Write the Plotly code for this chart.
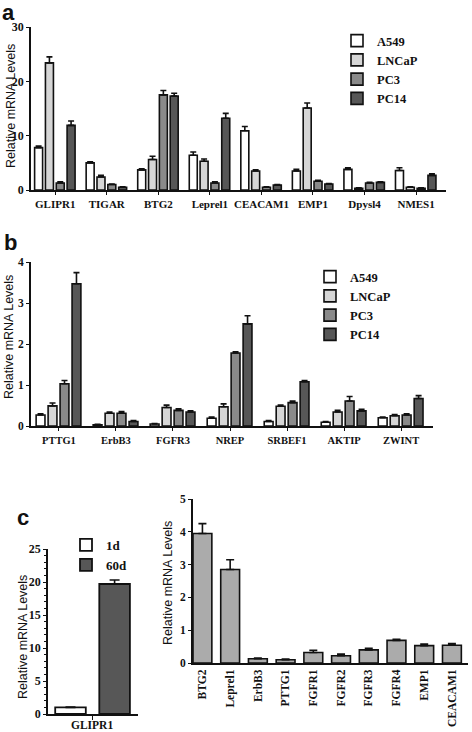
import plotly.graph_objects as go

W, H = 472, 732

# ---------------- data ----------------
genes_a = ["GLIPR1", "TIGAR", "BTG2", "Leprel1", "CEACAM1", "EMP1", "Dpysl4", "NMES1"]
a549_a = [7.8, 5.0, 3.7, 6.4, 10.9, 3.5, 3.8, 3.6]
a549_a_err = [0.3, 0.2, 0.2, 0.6, 0.8, 0.3, 0.3, 0.5]
lncap_a = [23.4, 2.4, 5.6, 5.3, 3.5, 15.1, 0.3, 0.5]
lncap_a_err = [1.1, 0.3, 0.6, 0.4, 0.2, 0.9, 0.1, 0.1]
pc3_a = [1.3, 1.0, 17.5, 1.3, 0.5, 1.6, 1.3, 0.3]
pc3_a_err = [0.2, 0.1, 0.8, 0.2, 0.1, 0.2, 0.1, 0.1]
pc14_a = [11.9, 0.5, 17.3, 13.2, 0.9, 1.1, 1.4, 2.7]
pc14_a_err = [0.8, 0.1, 0.5, 0.9, 0.1, 0.1, 0.1, 0.3]

genes_b = ["PTTG1", "ErbB3", "FGFR3", "NREP", "SRBEF1", "AKTIP", "ZWINT"]
a549_b = [0.27, 0.03, 0.05, 0.19, 0.11, 0.09, 0.20]
a549_b_err = [0.03, 0.01, 0.01, 0.03, 0.02, 0.02, 0.02]
lncap_b = [0.49, 0.31, 0.45, 0.47, 0.48, 0.34, 0.25]
lncap_b_err = [0.07, 0.03, 0.06, 0.07, 0.03, 0.04, 0.03]
pc3_b = [1.03, 0.31, 0.38, 1.78, 0.57, 0.61, 0.27]
pc3_b_err = [0.08, 0.04, 0.04, 0.03, 0.04, 0.11, 0.03]
pc14_b = [3.47, 0.11, 0.34, 2.49, 1.08, 0.37, 0.67]
pc14_b_err = [0.27, 0.02, 0.03, 0.20, 0.03, 0.04, 0.07]

genes_c1 = ["GLIPR1"]
d1_c = [1.0]
d1_c_err = [0.05]
d60_c = [19.7]
d60_c_err = [0.6]

genes_c2 = ["BTG2", "Leprel1", "ErbB3", "PTTG1", "FGFR1", "FGFR2", "FGFR3", "FGFR4", "EMP1", "CEACAM1"]
vals_c2 = [3.95, 2.85, 0.13, 0.10, 0.32, 0.22, 0.40, 0.69, 0.53, 0.54]
vals_c2_err = [0.30, 0.30, 0.02, 0.02, 0.07, 0.05, 0.05, 0.03, 0.05, 0.05]

series_names = ["A549", "LNCaP", "PC3", "PC14"]
colors = ["#ffffff", "#d6d6d6", "#8a8a8a", "#575757"]
y_title = "Relative mRNA Levels"

# ---------------- helpers ----------------
def px_x(a, b):
    return [a / W, b / W]

def px_y(top, bottom):
    return [1 - bottom / H, 1 - top / H]

SERIF = "Liberation Serif"
SANS = "Liberation Sans"
INK = "#111111"

fig = go.Figure()

offsets4 = [-0.40, -0.19, 0.02, 0.23]
width4 = 0.155

def add_group(genes, data, xa, ya, legend):
    for i, (name, (vals, errs)) in enumerate(zip(series_names, data)):
        fig.add_trace(go.Bar(
            x=genes, y=vals, name=name, xaxis=xa, yaxis=ya,
            offset=offsets4[i], width=width4,
            marker=dict(color=colors[i], line=dict(color=INK, width=1.6)),
            error_y=dict(type="data", array=errs, arrayminus=[0] * len(errs),
                         symmetric=False, color=INK, thickness=1.6, width=3),
            legend=legend, showlegend=True,
        ))

add_group(genes_a, [(a549_a, a549_a_err), (lncap_a, lncap_a_err),
                    (pc3_a, pc3_a_err), (pc14_a, pc14_a_err)], "x", "y", "legend")
add_group(genes_b, [(a549_b, a549_b_err), (lncap_b, lncap_b_err),
                    (pc3_b, pc3_b_err), (pc14_b, pc14_b_err)], "x2", "y2", "legend2")

fig.add_trace(go.Bar(
    x=genes_c1, y=d1_c, name="1d", xaxis="x3", yaxis="y3",
    offset=-0.41, width=0.34,
    marker=dict(color="#ffffff", line=dict(color=INK, width=1.8)),
    error_y=dict(type="data", array=d1_c_err, arrayminus=[0], symmetric=False,
                 color=INK, thickness=1.6, width=5),
    legend="legend3",
))
fig.add_trace(go.Bar(
    x=genes_c1, y=d60_c, name="60d", xaxis="x3", yaxis="y3",
    offset=0.08, width=0.34,
    marker=dict(color="#575757", line=dict(color=INK, width=1.8)),
    error_y=dict(type="data", array=d60_c_err, arrayminus=[0], symmetric=False,
                 color=INK, thickness=1.6, width=5),
    legend="legend3",
))

fig.add_trace(go.Bar(
    x=genes_c2, y=vals_c2, name="c2", xaxis="x4", yaxis="y4",
    offset=-0.34, width=0.68, showlegend=False,
    marker=dict(color="#ababab", line=dict(color=INK, width=1.6)),
    error_y=dict(type="data", array=vals_c2_err, arrayminus=[0] * len(vals_c2_err),
                 symmetric=False, color=INK, thickness=1.6, width=4),
))

axis_common = dict(showline=True, linecolor=INK, linewidth=1.8,
                   showgrid=False, zeroline=False, ticks="outside", automargin=False,
                   tickcolor=INK, tickwidth=1.4, ticklen=4, fixedrange=True)

tick_font = dict(family=SERIF, size=12, color=INK, weight="bold")
legend_common = dict(xanchor="left", yanchor="top", bgcolor="rgba(0,0,0,0)",
                     tracegroupgap=0, borderwidth=0)

def ytitle(xc, yc):
    return dict(text=y_title, x=xc / W, y=1 - yc / H, xref="paper", yref="paper",
                xanchor="center", yanchor="middle", textangle=-90, showarrow=False,
                font=dict(family=SANS, size=12.5, color=INK))

def panel_label(t, x, y_top):
    return dict(text="<b>%s</b>" % t, x=x / W, y=1 - y_top / H, xref="paper", yref="paper",
                xanchor="left", yanchor="top", showarrow=False,
                font=dict(family=SANS, size=22, color=INK))

# category label of panel c (left), placed on its category through the x3 axis
c1_label = dict(text=genes_c1[0], x=genes_c1[0], xref="x3", y=1 - 717 / H, yref="paper",
                xanchor="center", yanchor="top", showarrow=False,
                font=dict(family=SERIF, size=11.5, color=INK, weight="bold"))

layout = dict(
    width=W, height=H,
    margin=dict(l=0, r=0, t=0, b=0, autoexpand=False),
    paper_bgcolor="white", plot_bgcolor="white",
    barmode="overlay",
    showlegend=True,
    # panel a
    xaxis=dict(axis_common, domain=px_x(31, 446), range=[-0.47, 7.58], anchor="y",
               tickfont=dict(family=SERIF, size=11, color=INK, weight="bold"),
               ticklen=3),
    yaxis=dict(axis_common, domain=px_y(27, 190), range=[0, 30], dtick=10, anchor="x",
               tickfont=tick_font, ticklen=3),
    # panel b
    xaxis2=dict(axis_common, domain=px_x(31, 433), range=[-0.49, 6.56], anchor="y2",
                tickfont=dict(family=SERIF, size=10.5, color=INK, weight="bold"),
                ticklen=3),
    yaxis2=dict(axis_common, domain=px_y(262, 426), range=[0, 4], dtick=1, anchor="x2",
                tickfont=dict(family=SERIF, size=11.5, color=INK, weight="bold"), ticklen=3),
    # panel c left
    xaxis3=dict(axis_common, domain=px_x(48, 138), range=[-0.49, 0.51], anchor="y3",
                showticklabels=False, ticklen=4),
    yaxis3=dict(axis_common, domain=px_y(549, 714), range=[0, 25], dtick=5, anchor="x3",
                tickfont=tick_font, ticklen=3,
                minor=dict(dtick=1, ticks="outside", ticklen=2, tickcolor=INK, tickwidth=1)),
    # panel c right
    xaxis4=dict(axis_common, domain=px_x(193, 468), range=[-0.34, 9.58], anchor="y4",
                tickangle=-90, ticks="",
                tickfont=dict(family=SERIF, size=11.5, color=INK, weight="bold")),
    yaxis4=dict(axis_common, domain=px_y(499, 663), range=[0, 5], dtick=1, anchor="x4",
                tickfont=dict(family=SERIF, size=11.5, color=INK, weight="bold"), ticklen=3),
    legend=dict(legend_common, x=337 / W, y=1 - 26 / H,
                font=dict(family=SERIF, size=12.5, color=INK, weight="bold")),
    legend2=dict(legend_common, x=310 / W, y=1 - 262 / H,
                 font=dict(family=SERIF, size=12.5, color=INK, weight="bold")),
    legend3=dict(legend_common, x=66 / W, y=1 - 530 / H,
                 font=dict(family=SERIF, size=13, color=INK, weight="bold")),
    annotations=[
        ytitle(11, 106),
        ytitle(9, 337),
        ytitle(23, 637),
        ytitle(168, 583),
        panel_label("a", 0, -2),
        panel_label("b", 2, 228),
        panel_label("c", 15, 503),
        c1_label,
    ],
)
fig.update_layout(**layout)

fig.write_html(
    "out.html",
    config={"displayModeBar": False},
    post_script="document.body.style.margin='0';document.body.style.padding='0';"
                "document.documentElement.style.overflow='hidden';",
)
